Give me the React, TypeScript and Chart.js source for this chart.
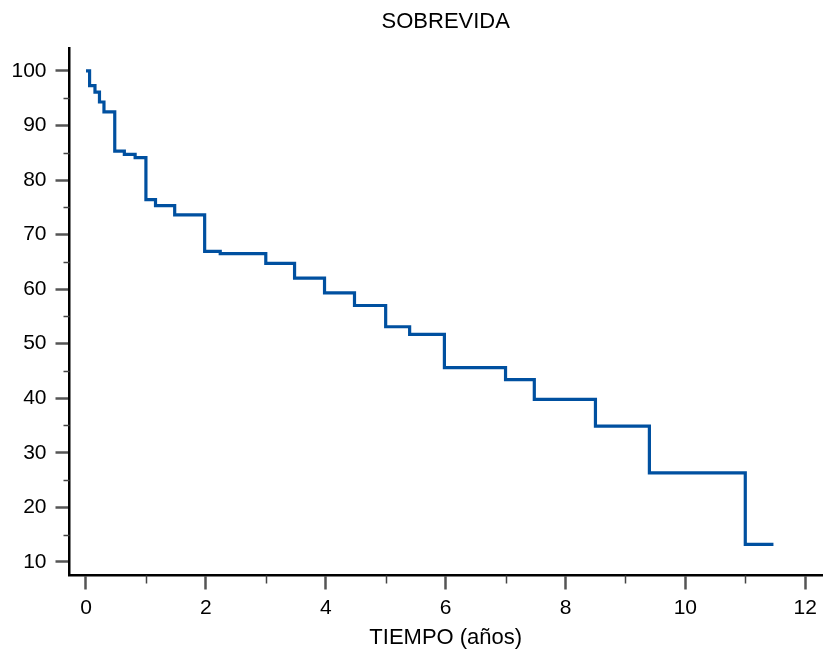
import React, { useEffect, useRef } from 'react';
import { Chart, registerables } from 'chart.js';

Chart.register(...registerables);

// Kaplan-Meier style survival data (time in years, survival %)
const times = [0, 0.06, 0.15, 0.225, 0.3, 0.48, 0.64, 0.82, 1.0, 1.16, 1.48, 1.98, 2.24, 3.0, 3.48, 3.98, 4.48, 5.0, 5.4, 5.98, 7.0, 7.48, 8.5, 9.4, 11.0, 11.47];
const survival = [100, 97.3, 96.1, 94.3, 92.5, 85.3, 84.7, 84.1, 76.4, 75.3, 73.6, 66.9, 66.5, 64.7, 62.0, 59.3, 57.0, 53.1, 51.7, 45.6, 43.4, 39.8, 34.9, 26.3, 13.2, 13.2];

const xMajorTicks = [0, 2, 4, 6, 8, 10, 12];
const xMinorTicks = [1, 3, 5, 7, 9, 11];
const yMajorTicks = [10, 20, 30, 40, 50, 60, 70, 80, 90, 100];
const yMinorTicks = [15, 25, 35, 45, 55, 65, 75, 85, 95];

const chartTitle = 'SOBREVIDA';
const xAxisTitle = 'TIEMPO (años)';

const FONT = "'Liberation Sans', Arial, sans-serif";

const decorPlugin = {
  id: 'decor',
  afterDraw(chart: any) {
    const { ctx, chartArea, scales } = chart;
    ctx.save();
    ctx.strokeStyle = '#444';
    ctx.lineWidth = 1.5;
    xMinorTicks.forEach((v) => {
      const px = Math.round(scales.x.getPixelForValue(v)) + 0.5;
      ctx.beginPath();
      ctx.moveTo(px, chartArea.bottom);
      ctx.lineTo(px, chartArea.bottom + 8);
      ctx.stroke();
    });
    yMinorTicks.forEach((v) => {
      const py = Math.round(scales.y.getPixelForValue(v)) + 0.5;
      ctx.beginPath();
      ctx.moveTo(chartArea.left - 6, py);
      ctx.lineTo(chartArea.left, py);
      ctx.stroke();
    });
    ctx.fillStyle = '#000';
    ctx.font = `22px ${FONT}`;
    ctx.textAlign = 'center';
    ctx.textBaseline = 'alphabetic';
    const cx = (chartArea.left + chartArea.right) / 2;
    ctx.fillText(chartTitle, cx, 28);
    ctx.fillText(xAxisTitle, cx, 643.5);
    ctx.restore();
  },
};

export default function App() {
  const canvasRef = useRef<HTMLCanvasElement | null>(null);

  useEffect(() => {
    document.body.style.margin = '0';
    const canvas = canvasRef.current;
    if (!canvas) return;
    const chart = new Chart(canvas, {
      type: 'line',
      data: {
        datasets: [
          {
            data: times.map((t, i) => ({ x: t, y: survival[i] })),
            stepped: 'before',
            borderColor: '#0050a0',
            borderWidth: 3.2,
            pointRadius: 0,
            fill: false,
            borderJoinStyle: 'miter',
            borderCapStyle: 'butt',
          },
        ],
      },
      options: {
        animation: false,
        responsive: false,
        layout: { padding: { top: 48, right: 2, left: 0, bottom: 0 } },
        plugins: {
          legend: { display: false },
          tooltip: { enabled: false },
          title: { display: false },
        },
        scales: {
          x: {
            type: 'linear',
            min: -0.275,
            max: 12.28,
            afterFit: (scale: any) => {
              scale.height = 79.5;
            },
            afterBuildTicks: (scale: any) => {
              scale.ticks = xMajorTicks.map((value) => ({ value }));
            },
            grid: {
              drawOnChartArea: false,
              drawTicks: true,
              tickLength: 14,
              tickColor: '#555',
              tickWidth: 2.5,
            },
            border: { display: true, color: '#000', width: 2.5 },
            ticks: {
              color: '#000',
              font: { family: FONT, size: 21 },
              padding: 6,
              maxRotation: 0,
              autoSkip: false,
            },
          },
          y: {
            type: 'linear',
            min: 7.5,
            max: 104.2,
            afterFit: (scale: any) => {
              scale.width = 69.5;
            },
            afterBuildTicks: (scale: any) => {
              scale.ticks = yMajorTicks.map((value) => ({ value }));
            },
            grid: {
              drawOnChartArea: false,
              drawTicks: true,
              tickLength: 14,
              tickColor: '#555',
              tickWidth: 2.5,
            },
            border: { display: true, color: '#000', width: 2.5 },
            ticks: {
              color: '#000',
              font: { family: FONT, size: 21 },
              padding: 9,
              autoSkip: false,
            },
          },
        },
      },
      plugins: [decorPlugin],
    } as any);
    return () => chart.destroy();
  }, []);

  return (
    <div style={{ width: 824, height: 655 }}>
      <canvas ref={canvasRef} width={824} height={655} style={{ display: 'block' }} />
    </div>
  );
}
